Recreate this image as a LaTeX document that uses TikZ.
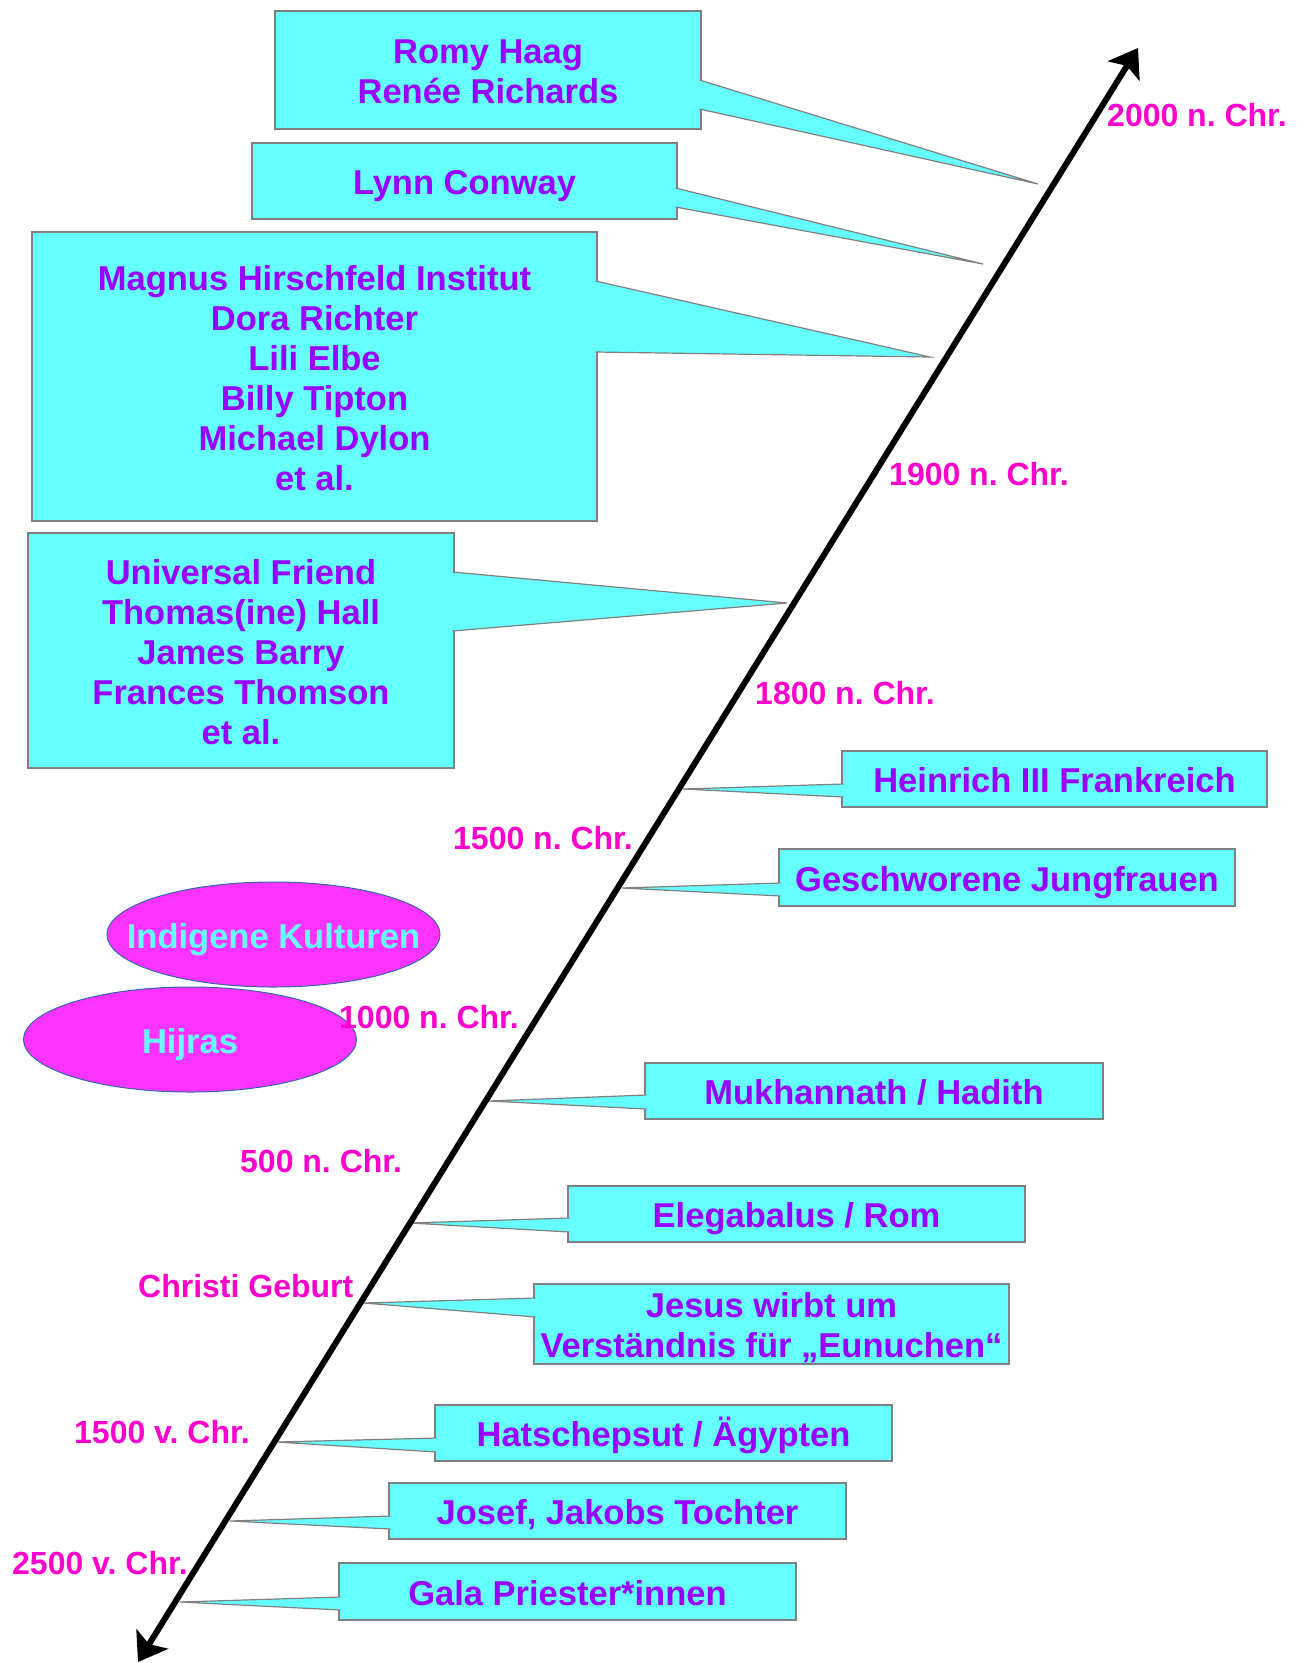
\documentclass[tikz,border=0pt]{standalone}
\usepackage{fontspec}
\setmainfont{Liberation Sans}
\usetikzlibrary{shapes.geometric,arrows.meta,calc}
\definecolor{boxcol}{RGB}{102,255,255}
\definecolor{edgecol}{RGB}{128,128,128}
\definecolor{namecol}{RGB}{153,0,255}
\definecolor{yearcol}{RGB}{255,0,204}
\definecolor{culturecol}{RGB}{255,51,255}
\definecolor{rimcol}{RGB}{52,101,164}

\begin{document}
\frenchspacing
\begin{tikzpicture}[x=1pt, y=-1pt,
  eventbox/.style={draw=edgecol, line width=1.2pt, fill=boxcol, text=namecol, align=center,
    inner sep=0pt, outer sep=0pt, text height=27pt, text depth=0pt,
    font=\fontsize{34.5}{40}\selectfont\bfseries},
  pointer/.style={draw=edgecol, line width=1.2pt, fill=boxcol},
  yearlabel/.style={text=yearcol, anchor=west, inner sep=0pt, font=\fontsize{32}{36}\selectfont\bfseries},
  culture/.style={ellipse, draw=rimcol, line width=1pt, fill=culturecol, text=boxcol, inner sep=0pt,
    text height=27pt, text depth=0pt, minimum width=333pt, minimum height=105pt,
    font=\fontsize{34.5}{40}\selectfont\bfseries},
  timeaxis/.style={line width=6pt, >={Stealth[length=27pt,width=37pt,inset=6pt]}, <->}]
  \useasboundingbox (0,0) rectangle (1302,1663);

  % time axis end points
  \coordinate (past) at (138,1662);
  \coordinate (now) at (1138,48);

  % where the callouts point
  \coordinate (tromy) at (1038,184);
  \coordinate (tlynn) at (983,264);
  \coordinate (tmagnus) at (930,357);
  \coordinate (tuniversal) at (787,603);
  \coordinate (theinrich) at (683,789);
  \coordinate (tjungfrauen) at (622,888);
  \coordinate (tmukhannath) at (489,1101);
  \coordinate (telegabalus) at (410,1223);
  \coordinate (tjesus) at (364,1303);
  \coordinate (thatschepsut) at (277,1442);
  \coordinate (tjosef) at (230,1521);
  \coordinate (tgala) at (180,1602);

  % left side boxes
  \node[eventbox, minimum width=426pt, minimum height=118pt, text height=67pt] (romy) at (488,70)
    {Romy Haag\\Renée Richards};
  \filldraw[pointer] ($(romy.north east)+(-1.5,69)$) -- (tromy) -- ($(romy.north east)+(-1.5,98)$);
  \node[eventbox, minimum width=425pt, minimum height=76pt] (lynn) at (464.5,181) {Lynn Conway};
  \filldraw[pointer] ($(lynn.north east)+(-1.5,45)$) -- (tlynn) -- ($(lynn.north east)+(-1.5,64)$);
  \node[eventbox, minimum width=565pt, minimum height=289pt, text height=227pt] (magnus) at (314.5,376.5)
    {Magnus Hirschfeld Institut\\Dora Richter\\Lili Elbe\\Billy Tipton\\Michael Dylon\\et al.};
  \filldraw[pointer] ($(magnus.north east)+(-1.5,49)$) -- (tmagnus) -- ($(magnus.north east)+(-1.5,120)$);
  \node[eventbox, minimum width=426pt, minimum height=235pt, text height=187pt] (universal) at (241,650.5)
    {Universal Friend\\Thomas(ine) Hall\\James Barry\\Frances Thomson\\et al.};
  \filldraw[pointer] ($(universal.north east)+(-1.5,39)$) -- (tuniversal) -- ($(universal.north east)+(-1.5,98)$);

  % right side boxes
  \node[eventbox, minimum width=425pt, minimum height=56pt] (heinrich) at (1054.5,779) {Heinrich III Frankreich};
  \filldraw[pointer] ($(heinrich.north west)+(1.5,33)$) -- (theinrich) -- ($(heinrich.north west)+(1.5,46)$);
  \node[eventbox, minimum width=456pt, minimum height=57pt] (jungfrauen) at (1007,877.5) {Geschworene Jungfrauen};
  \filldraw[pointer] ($(jungfrauen.north west)+(1.5,34)$) -- (tjungfrauen) -- ($(jungfrauen.north west)+(1.5,47)$);
  \node[eventbox, minimum width=458pt, minimum height=56pt] (mukhannath) at (874,1091) {Mukhannath / Hadith};
  \filldraw[pointer] ($(mukhannath.north west)+(1.5,32)$) -- (tmukhannath) -- ($(mukhannath.north west)+(1.5,46)$);
  \node[eventbox, minimum width=457pt, minimum height=56pt] (elegabalus) at (796.5,1214) {Elegabalus / Rom};
  \filldraw[pointer] ($(elegabalus.north west)+(1.5,32)$) -- (telegabalus) -- ($(elegabalus.north west)+(1.5,46)$);
  \node[eventbox, minimum width=475pt, minimum height=80pt, text height=67pt] (jesus) at (771.5,1324)
    {Jesus wirbt um\\Verständnis für „Eunuchen“};
  \filldraw[pointer] ($(jesus.north west)+(1.5,14)$) -- (tjesus) -- ($(jesus.north west)+(1.5,33)$);
  \node[eventbox, minimum width=457pt, minimum height=56pt] (hatschepsut) at (663.5,1433) {Hatschepsut / Ägypten};
  \filldraw[pointer] ($(hatschepsut.north west)+(1.5,33)$) -- (thatschepsut) -- ($(hatschepsut.north west)+(1.5,47)$);
  \node[eventbox, minimum width=457pt, minimum height=56pt] (josef) at (617.5,1511) {Josef, Jakobs Tochter};
  \filldraw[pointer] ($(josef.north west)+(1.5,33)$) -- (tjosef) -- ($(josef.north west)+(1.5,46)$);
  \node[eventbox, minimum width=457pt, minimum height=57pt] (gala) at (567.5,1591.5) {Gala Priester*innen};
  \filldraw[pointer] ($(gala.north west)+(1.5,34)$) -- (tgala) -- ($(gala.north west)+(1.5,47)$);

  % cultures
  \node[culture] (indigene) at (273.5,934.5) {\makebox[0pt]{Indigene Kulturen}};
  \node[culture] (hijras) at (190,1039.5) {\makebox[0pt]{Hijras}};

  \draw[timeaxis] (past) -- (now);

  % years
  \node[yearlabel] (y2000) at (1107,115) {2000 n. Chr.};
  \node[yearlabel] (y1900) at (889,474) {1900 n. Chr.};
  \node[yearlabel] (y1800) at (755,693) {1800 n. Chr.};
  \node[yearlabel] (y1500) at (453,838) {1500 n. Chr.};
  \node[yearlabel] (y1000) at (339,1017) {1000 n. Chr.};
  \node[yearlabel] (y500) at (240,1161) {500 n. Chr.};
  \node[yearlabel] (y0) at (138,1286) {Christi Geburt};
  \node[yearlabel] (ym1500) at (74,1432) {1500 v. Chr.};
  \node[yearlabel] (ym2500) at (12,1563) {2500 v. Chr.};
\end{tikzpicture}
\end{document}
